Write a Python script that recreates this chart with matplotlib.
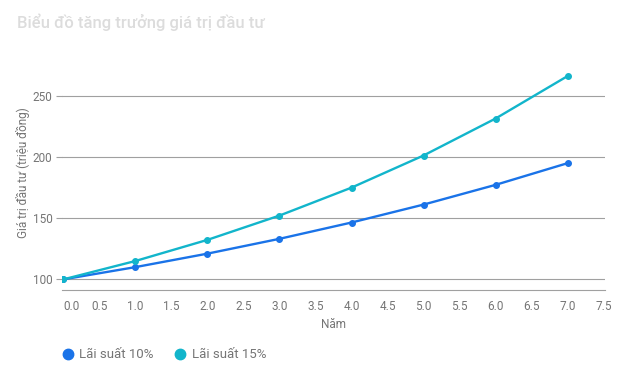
import matplotlib
matplotlib.use("Agg")
import matplotlib.pyplot as plt
from matplotlib.lines import Line2D

years = [0, 1, 2, 3, 4, 5, 6, 7]
rate10 = [100, 110, 121, 133.1, 146.41, 161.05, 177.16, 194.87]
rate15 = [100, 115, 132.25, 152.09, 174.9, 201.14, 231.31, 266.0]
series_names = ["Lãi suất 10%", "Lãi suất 15%"]
xticks = [0.0, 0.5, 1.0, 1.5, 2.0, 2.5, 3.0, 3.5, 4.0, 4.5, 5.0, 5.5, 6.0, 6.5, 7.0, 7.5]
yticks = [100, 150, 200, 250]
title = "Biểu đồ tăng trưởng giá trị đầu tư"
xlabel = "Năm"
ylabel = "Giá trị đầu tư (triệu đồng)"

plt.rcParams['font.family'] = ['Roboto', 'DejaVu Sans']
c10 = "#1a73e8"
c15 = "#12b5cb"
txt = "#757575"
grid = "#a0a0a0"

fig = plt.figure(figsize=(6.28, 3.80), dpi=100)
ax = fig.add_axes([62/628, 90/380, 543/628, 240/380])

ax.plot(years, rate10, color=c10, lw=1.7, marker='o', ms=4, zorder=3)
ax.plot(years, rate15, color=c15, lw=1.7, marker='o', ms=4, zorder=3)

ax.set_xlim(-0.02, 7.52)
ax.set_ylim(91.3, 287.3)
ax.set_yticks(yticks)
ax.set_yticklabels([str(v) for v in yticks])
ax.set_xticks(xticks)
ax.set_xticklabels([f"{v:.1f}" for v in xticks])
ax.xaxis.get_majorticklabels()[0].set_horizontalalignment('left')

ax.grid(axis='y', color=grid, lw=0.8)
ax.set_axisbelow(True)
for s in ['top', 'right', 'left']:
    ax.spines[s].set_visible(False)
ax.spines['bottom'].set_color(grid)
ax.spines['bottom'].set_linewidth(0.8)
ax.tick_params(axis='x', length=0, pad=7, labelsize=8.5, labelcolor=txt)
ax.tick_params(axis='y', length=4, width=0.8, color=grid, pad=3, labelsize=8.5, labelcolor=txt)

ax.set_xlabel(xlabel, color=txt, fontsize=8.5, labelpad=4)
ax.set_ylabel(ylabel, color=txt, fontsize=8.5, va='center')
ax.yaxis.set_label_coords((22.7 - 62) / 543, (290 - 173) / 240)

fig.text(17/628, 1 - 22/380, title, color="#dcdcdc", fontsize=12, fontweight='medium', va='center', ha='left')

handles = [Line2D([], [], ls='', marker='o', ms=7.5, color=c) for c in (c10, c15)]
leg = fig.legend(handles, series_names, loc='center left', bbox_to_anchor=(63/628, 1 - 355/380),
                 frameon=False, ncol=2, fontsize=9.5, handletextpad=0.45, columnspacing=1.6,
                 handlelength=0.8, borderaxespad=0, borderpad=0)
for t in leg.get_texts():
    t.set_color(txt)

fig.savefig("out.png", dpi=100)
